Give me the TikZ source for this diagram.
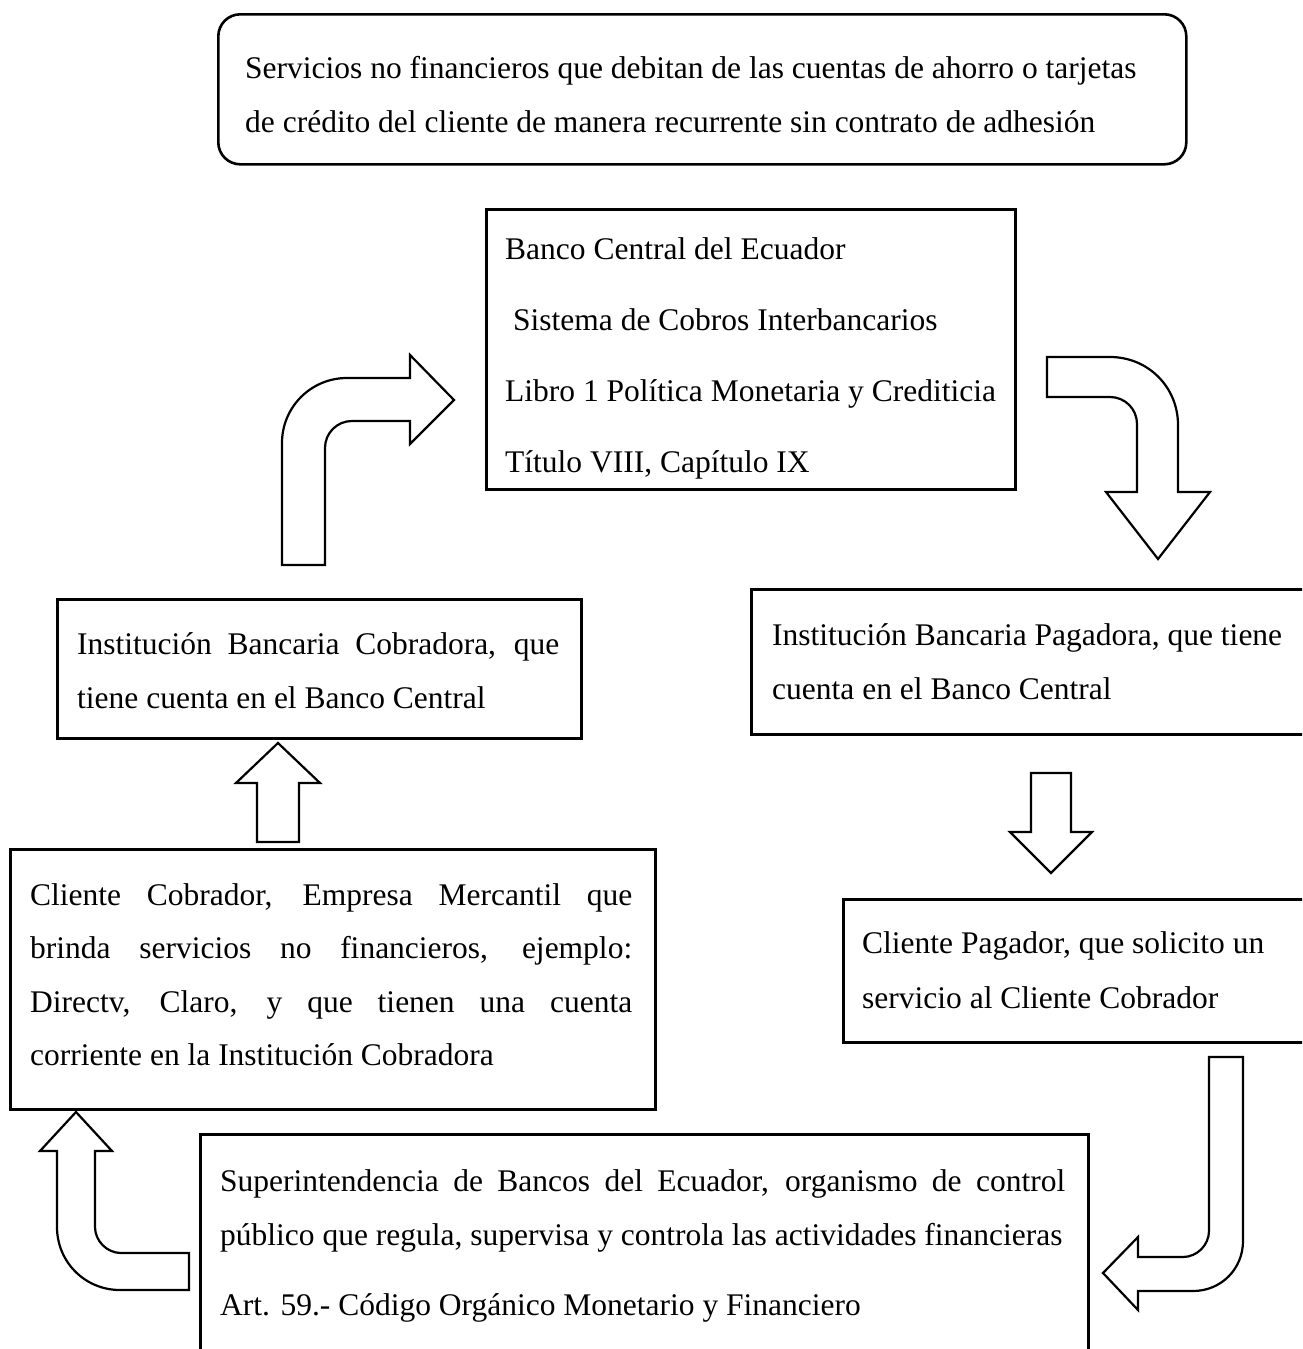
\documentclass[tikz,border=0pt]{standalone}
\usepackage{fontspec}
\setmainfont{Liberation Serif}
\begin{document}
\begin{tikzpicture}[x=1pt,y=-1pt,
  box/.style={draw=black, line width=2.6pt, anchor=north west, inner sep=0pt, fill=white},
  rbox/.style={box, rounded corners=22pt},
  txt/.style={anchor=base west, inner sep=0pt, font=\fontsize{31.5}{54}\selectfont},
  blockarrow/.style={draw=black, line width=2.2pt, fill=white, line join=miter}]
\clip (0,0) rectangle (1302,1349);
\useasboundingbox (0,0) rectangle (1302,1349);
\fill[white] (0,0) rectangle (1302,1349);

% boxes
\node[rbox, minimum width=968pt, minimum height=150pt] (top) at (217,13) {};
\node[box, minimum width=529pt, minimum height=280pt] (bce) at (485,208) {};
\node[box, minimum width=524pt, minimum height=139pt] (ibc) at (56,598) {};
\node[box, minimum width=570pt, minimum height=145pt] (ibp) at (750,588) {};
\node[box, minimum width=645pt, minimum height=260pt] (cc) at (9,848) {};
\node[box, minimum width=478pt, minimum height=143pt] (cp) at (842,898) {};
\node[box, minimum width=888pt, minimum height=240pt] (sb) at (199,1133) {};

% texts
\node[txt] (top1) at (245,78) {Servicios no financieros que debitan de las cuentas de ahorro o tarjetas};
\node[txt] (top2) at (245,132) {de crédito del cliente de manera recurrente sin contrato de adhesión};

\node[txt] (bce1) at (505,259) {Banco Central del Ecuador};
\node[txt] (bce2) at (513,330) {Sistema de Cobros Interbancarios};
\node[txt] (bce3) at (505,401) {Libro 1 Política Monetaria y Crediticia};
\node[txt] (bce4) at (505,472) {Título VIII, Capítulo IX};

\node[txt] (ibc1) at (77,654) {\makebox[482pt][s]{Institución Bancaria Cobradora, que}};
\node[txt] (ibc2) at (77,708) {tiene cuenta en el Banco Central};

\node[txt] (ibp1) at (772,645) {Institución Bancaria Pagadora, que tiene};
\node[txt] (ibp2) at (772,699) {cuenta en el Banco Central};

\node[txt] (cc1) at (30,905) {\makebox[602pt][s]{Cliente Cobrador, Empresa Mercantil que}};
\node[txt] (cc2) at (30,958) {\makebox[602pt][s]{brinda servicios no financieros, ejemplo:}};
\node[txt] (cc3) at (30,1012) {\makebox[602pt][s]{Directv, Claro, y que tienen una cuenta}};
\node[txt] (cc4) at (30,1065) {corriente en la Institución Cobradora};

\node[txt] (cp1) at (862,953) {Cliente Pagador, que solicito un};
\node[txt] (cp2) at (862,1008) {servicio al Cliente Cobrador};

\node[txt] (sb1) at (220,1191) {\makebox[845pt][s]{Superintendencia de Bancos del Ecuador, organismo de control}};
\node[txt] (sb2) at (220,1245) {público que regula, supervisa y controla las actividades financieras};
\node[txt] (sb3) at (220,1315) {Art. 59.- Código Orgánico Monetario y Financiero};

% block arrows
% bent up-right arrow (Cobradora -> Banco Central)
\draw[blockarrow] (282,565) -- (282,443) .. controls (282,407) and (311,378) .. (347,378)
  -- (410,378) -- (410,355) -- (454,400) -- (410,444) -- (410,421) -- (352,421)
  .. controls (337,421) and (325,433) .. (325,448) -- (325,565) -- cycle;
% bent right-down arrow (Banco Central -> Pagadora)
\draw[blockarrow] (1047,357) -- (1110,357) .. controls (1148,357) and (1178,387) .. (1178,425)
  -- (1178,492) -- (1210,492) -- (1158,559) -- (1106,492) -- (1137,492) -- (1137,424)
  .. controls (1137,409) and (1125,397) .. (1110,397) -- (1047,397) -- cycle;
% down arrow (Pagadora -> Cliente Pagador)
\draw[blockarrow] (1031,773) -- (1071,773) -- (1071,832) -- (1092,832) -- (1051,873)
  -- (1010,832) -- (1031,832) -- cycle;
% J arrow (Cliente Pagador -> Superintendencia)
\draw[blockarrow] (1209,1057) -- (1243,1057) -- (1243,1241) .. controls (1243,1269) and (1221,1291) .. (1193,1291)
  -- (1138,1291) -- (1138,1310) -- (1103,1273) -- (1138,1237) -- (1138,1257) -- (1183,1257)
  .. controls (1197,1257) and (1209,1245) .. (1209,1231) -- cycle;
% U arrow (Superintendencia -> Cliente Cobrador)
\draw[blockarrow] (57,1151) -- (40,1151) -- (76,1112) -- (112,1151) -- (95,1151) -- (95,1227)
  .. controls (95,1241) and (107,1253) .. (121,1253) -- (189,1253) -- (189,1290) -- (120,1290)
  .. controls (85,1290) and (57,1262) .. (57,1227) -- cycle;
% up arrow (Cliente Cobrador -> Cobradora)
\draw[blockarrow] (257,842) -- (257,783) -- (236,783) -- (278,743) -- (320,783) -- (299,783)
  -- (299,842) -- cycle;
\end{tikzpicture}
\end{document}
